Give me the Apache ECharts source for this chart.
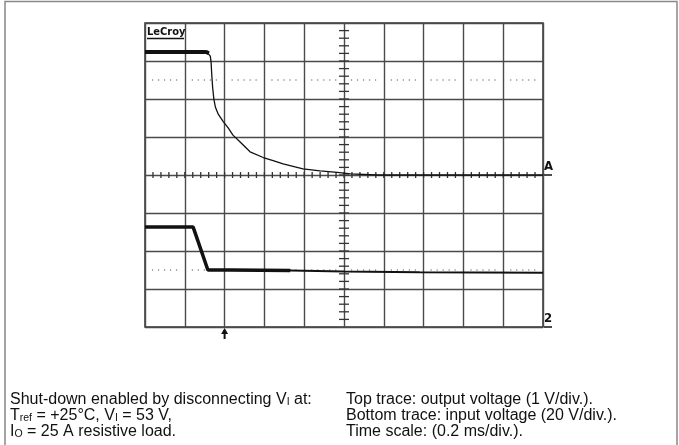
<!DOCTYPE html>
<html><head><meta charset="utf-8">
<script src="https://cdn.jsdelivr.net/npm/echarts@6/dist/echarts.min.js"></script>
<style>html,body{margin:0;padding:0;background:#fff}#c{width:679px;height:445px}</style>
</head><body><div id="c"></div>
<script>
// Time scale: 0.2 ms/div, 10 divisions (ms)
const outTime = [0, 0.300, 0.312, 0.320, 0.328, 0.332, 0.336, 0.340, 0.346, 0.354, 0.368, 0.394, 0.418, 0.442, 0.478, 0.528, 0.594, 0.644, 0.694, 0.794, 0.880, 0.966, 1.032, 1.168, 2.0];
// Top trace: output voltage (1 V/div), zero at marker "A"
const outVolt = [3.24, 3.24, 3.23, 3.20, 3.13, 2.97, 2.60, 2.30, 2.00, 1.78, 1.60, 1.40, 1.24, 1.05, 0.87, 0.61, 0.46, 0.38, 0.29, 0.16, 0.11, 0.07, 0.03, 0.00, 0.00];
// Bottom trace: input voltage (20 V/div), zero at marker "2"
const inTime = [0, 0.242, 0.252, 0.316, 0.43, 0.73, 1.0, 1.38, 2.0];
const inVolt = [52.6, 52.6, 52.0, 30.0, 30.0, 29.8, 29.2, 28.8, 28.6];
// dotted reference levels (output axis, V) and trigger time (ms)
const refLevels = [2.5, -2.5];
const triggerTime = 0.4;

const outPts = outTime.map((t, i) => [t, outVolt[i]]);
const inPts = inTime.map((t, i) => [t, inVolt[i]]);

const crossTicks = [];
for (let k = 1; k < 40; k++) crossTicks.push([1.0, -4 + k * 0.2, 0]);
for (let k = 1; k < 50; k++) crossTicks.push([k * 0.04, 0, 1]);
const dotSegs = [];
refLevels.forEach(l => { for (let c = 0; c < 10; c++) dotSegs.push([c * 0.2, l]); });

const gridLine = {show: true, lineStyle: {color: '#4a4a4a', width: 1.4}};
const hidden = {axisLabel: {show: false}, axisTick: {show: false}, axisLine: {show: false}};

const option = {
  animation: false,
  grid: {left: 145, top: 23, width: 398, height: 304, show: true, borderColor: '#333', borderWidth: 1.5, containLabel: false},
  xAxis: [Object.assign({type: 'value', min: 0, max: 2, interval: 0.2, splitLine: gridLine}, hidden)],
  yAxis: [
    Object.assign({type: 'value', min: -4, max: 4, interval: 1, splitLine: gridLine}, hidden),
    Object.assign({type: 'value', min: 0, max: 160, interval: 20, splitLine: {show: false}}, hidden)
  ],
  series: [
    {type: 'custom', silent: true, z: 1, data: dotSegs,
      renderItem: (p, api) => {
        const x = api.value(0), l = api.value(1);
        const a = api.coord([x + 0.035, l]), b = api.coord([x + 0.165, l]);
        return {type: 'line', shape: {x1: a[0], y1: a[1], x2: b[0], y2: b[1]}, style: {stroke: '#555', lineWidth: 1, lineDash: [1.2, 4.8]}};
      }},
    {type: 'custom', silent: true, z: 2, data: crossTicks,
      renderItem: (p, api) => {
        const c = api.coord([api.value(0), api.value(1)]);
        const k = api.value(2);
        const shape = k === 0 ? {x1: c[0] - 5, y1: c[1], x2: c[0] + 5, y2: c[1]} : {x1: c[0], y1: c[1] - 3, x2: c[0], y2: c[1] + 3};
        return {type: 'line', shape: shape, style: {stroke: '#333', lineWidth: 1.3}};
      }},
    {name: 'Output voltage', type: 'line', data: outPts, yAxisIndex: 0, showSymbol: false, z: 5,
      lineStyle: {color: '#111', width: 1.3}},
    {name: 'Output noise', type: 'line', data: outPts.slice(0, 4), yAxisIndex: 0, showSymbol: false, z: 5,
      lineStyle: {color: '#111', width: 4}},
    {name: 'Input voltage', type: 'line', data: inPts, yAxisIndex: 1, showSymbol: false, z: 5,
      lineStyle: {color: '#111', width: 2}},
    {name: 'Input noise', type: 'line', data: inPts.slice(0, 6), yAxisIndex: 1, showSymbol: false, z: 5,
      lineStyle: {color: '#111', width: 3.5}}
  ]
};

const chart = echarts.init(document.getElementById('c'), null, {renderer: 'canvas'});
chart.setOption(option);

const pA = chart.convertToPixel({xAxisIndex: 0, yAxisIndex: 0}, [2, 0]);
const p2 = chart.convertToPixel({xAxisIndex: 0, yAxisIndex: 1}, [2, 0]);
const pT = chart.convertToPixel({xAxisIndex: 0, yAxisIndex: 0}, [triggerTime, -4]);
const pTL = chart.convertToPixel({xAxisIndex: 0, yAxisIndex: 0}, [0, 4]);
const scopeFont = '"DejaVu Sans Condensed", "DejaVu Sans", sans-serif';
const capFont = '"Liberation Sans", Arial, sans-serif';
const subStyle = {fontSize: 10.5, lineHeight: 7, verticalAlign: 'bottom', fontFamily: capFont, fill: '#111'};

chart.setOption({graphic: [
  {type: 'rect', shape: {x: 5, y: 1.5, width: 672, height: 470}, style: {fill: 'none', stroke: '#888', lineWidth: 1.5}, silent: true},
  {type: 'text', x: pTL[0] + 2, y: pTL[1] + 4, style: {text: 'LeCroy', font: 'bold 11px ' + scopeFont, fill: '#111'}},
  {type: 'line', shape: {x1: pTL[0] + 2, y1: pTL[1] + 15.5, x2: pTL[0] + 39, y2: pTL[1] + 15.5}, style: {stroke: '#111', lineWidth: 1.3}},
  {type: 'text', x: pA[0] + 1, y: pA[1] - 2, style: {text: 'A', font: 'bold 13px ' + scopeFont, fill: '#111', textVerticalAlign: 'bottom'}},
  {type: 'line', shape: {x1: pA[0] + 1, y1: pA[1], x2: pA[0] + 9, y2: pA[1]}, style: {stroke: '#111', lineWidth: 1.5}},
  {type: 'text', x: p2[0] + 1, y: p2[1] - 2, style: {text: '2', font: 'bold 13px ' + scopeFont, fill: '#111', textVerticalAlign: 'bottom'}},
  {type: 'line', shape: {x1: p2[0] + 1, y1: p2[1], x2: p2[0] + 9, y2: p2[1]}, style: {stroke: '#111', lineWidth: 1.5}},
  {type: 'line', shape: {x1: pT[0], y1: pT[1] + 3, x2: pT[0], y2: pT[1] + 12}, style: {stroke: '#111', lineWidth: 2}},
  {type: 'polygon', shape: {points: [[pT[0] - 3.5, pT[1] + 7], [pT[0], pT[1] + 1], [pT[0] + 3.5, pT[1] + 7]]}, style: {fill: '#111'}},
  {type: 'text', x: 10, y: 391, style: {
    text: 'Shut-down enabled by disconnecting V{s|I} at:\nT{s|ref} = +25°C, V{s|I} = 53 V,\nI{s|O} = 25 A resistive load.',
    fontSize: 16, lineHeight: 16.3, fontFamily: capFont, fill: '#111', rich: {s: subStyle}}},
  {type: 'text', x: 346, y: 391, style: {
    text: 'Top trace: output voltage (1 V/div.).\nBottom trace: input voltage (20 V/div.).\nTime scale: (0.2 ms/div.).',
    fontSize: 16, lineHeight: 16.3, fontFamily: capFont, fill: '#111'}}
]});
</script>
</body></html>
